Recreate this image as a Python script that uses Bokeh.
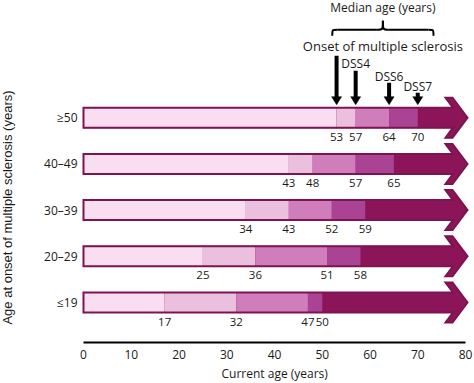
import math
from bokeh.plotting import figure
from bokeh.models import Range1d, FixedTicker, Title
from bokeh.embed import file_html
from bokeh.resources import INLINE
from bokeh.core.properties import value

# ---------------- data ----------------
groups = ["≥50", "40–49", "30–39", "20–29", "≤19"]
onset = [53, 43, 34, 25, 17]
dss4 = [57, 48, 43, 36, 32]
dss6 = [64, 57, 52, 51, 47]
dss7 = [70, 65, 59, 58, 50]
x_ticks = [0, 10, 20, 30, 40, 50, 60, 70, 80]
marker_labels = ["Onset of multiple sclerosis", "DSS4", "DSS6", "DSS7"]
header = "Median age (years)"
x_title = "Current age (years)"
y_title = "Age at onset of multiple sclerosis (years)"

# ---------------- styles ----------------
FONT = "Open Sans"
TXT = "#1a1a1a"
seg_colors = ["#f9ddf0", "#ebc0df", "#cf7ebb", "#ab4394"]
DARK = "#8c1458"
OUTLINE = "#7d1450"

W, H = 474, 383
ORIGIN, RIGHT, BOTTOM = 83, 2, 41
PX_X = 4.775    # pixels per year
PX_Y = 46.2     # pixels per row
x_start = -ORIGIN / PX_X
x_end = x_start + (W - RIGHT) / PX_X
y_start = -40 / PX_Y
y_end = y_start + (H - BOTTOM) / PX_Y

p = figure(width=W, height=H, output_backend="svg", toolbar_location=None,
           x_range=Range1d(x_start, x_end), y_range=Range1d(y_start, y_end),
           y_axis_location=None,
           min_border_left=0, min_border_right=RIGHT,
           min_border_top=0, min_border_bottom=BOTTOM)
p.outline_line_color = None
p.grid.visible = False
p.background_fill_color = "white"

n = len(groups)
rows = list(range(n))[::-1]
hh = 10 / PX_Y      # bar half height
HH = 20 / PX_Y      # arrow head half height
tip = x_ticks[-1] + 2 / PX_X
xa = tip - 22 / PX_X
xf = tip - 15 / PX_X
xb = tip - 14.5 / PX_X

# arrow shapes
axs, ays = [], []
for y in rows:
    axs.append([0, xb, xa, xf, tip, xf, xa, xb, 0])
    ays.append([y + hh, y + hh, y + HH, y + HH, y, y - HH, y - HH, y - hh, y - hh])
p.patches(axs, ays, fill_color=DARK, line_color=DARK, line_width=1)

# segments
L, R, B, T, C = [], [], [], [], []
for i, y in enumerate(rows):
    bounds = [0, onset[i], dss4[i], dss6[i], dss7[i]]
    for k in range(4):
        L.append(bounds[k]); R.append(bounds[k + 1])
        B.append(y - hh); T.append(y + hh); C.append(seg_colors[k])
p.quad(left=L, right=R, bottom=B, top=T, fill_color=C, line_color=None)
p.patches(axs, ays, fill_color=None, line_color=OUTLINE, line_width=2, line_join="miter")

# value labels under bars
lx, ly, lt = [], [], []
for i, y in enumerate(rows):
    for v in (onset[i], dss4[i], dss6[i], dss7[i]):
        lx.append(v); ly.append(y - hh - 9 / PX_Y); lt.append(str(v))
p.text(lx, ly, text=lt, text_align="center", text_baseline="middle",
       text_font=value(FONT), text_font_size="11.5px", text_color=TXT)

# category labels (left)
p.text([-6 / PX_X] * n, rows, text=groups, text_align="right", text_baseline="middle",
       text_font=value(FONT), text_font_size="12px", text_color=TXT)

# y title
p.text([-76.5 / PX_X], [y_end - 207 / PX_Y], text=[y_title], angle=math.pi / 2,
       text_align="center", text_baseline="middle",
       text_font=value("Liberation Sans"), text_font_size="13px", text_color=TXT)

# top markers (first row)
top_vals = [onset[0], dss4[0], dss6[0], dss7[0]]
shaft_px = [49, 34, 22, 12]
label_px = [59, 41, 28, 18]
tip_y = rows[0] + hh + 3 / PX_Y
head_len = 8 / PX_Y
head_hw = 5 / PX_X
p.segment(x0=top_vals, y0=[tip_y + s / PX_Y for s in shaft_px],
          x1=top_vals, y1=[tip_y + head_len * 0.9] * 4,
          line_color="black", line_width=4, line_cap="butt")
p.patches([[v - head_hw, v + head_hw, v] for v in top_vals],
          [[tip_y + head_len, tip_y + head_len, tip_y]] * 4,
          fill_color="black", line_color="black", line_width=0.5)

# brace
bl = onset[0] - 0.9
br = dss7[0] + 3.3
bm = (bl + br) / 2
ye = tip_y + 69 / PX_Y
yf = tip_y + 75 / PX_Y
yp = tip_y + 84 / PX_Y
r1 = 5 / PX_X
r2 = 6 / PX_X
p.bezier(x0=[bl, bm - r2, br, bm + r2], y0=[ye, yf, ye, yf],
         x1=[bl + r1, bm, br - r1, bm], y1=[yf, yp, yf, yp],
         cx0=[bl, bm, br, bm], cy0=[yf, yf, yf, yf],
         cx1=[bl, bm, br, bm], cy1=[yf, yf, yf, yf],
         line_color="black", line_width=2)
p.segment(x0=[bl + r1, bm + r2], y0=[yf, yf], x1=[bm - r2, br - r1], y1=[yf, yf],
          line_color="black", line_width=2)

# marker texts
p.text([bm], [tip_y + 97 / PX_Y], text=[header], text_align="center", text_baseline="middle",
       text_font=value(FONT), text_font_size="12px", text_color=TXT)
p.text([bm], [tip_y + label_px[0] / PX_Y], text=[marker_labels[0]], text_align="center",
       text_baseline="middle", text_font=value(FONT), text_font_size="13px", text_color=TXT)
p.text(top_vals[1:], [tip_y + s / PX_Y for s in label_px[1:]], text=marker_labels[1:],
       text_align="center", text_baseline="middle",
       text_font=value(FONT), text_font_size="12px", text_color=TXT)

# x axis
xa_ = p.xaxis[0]
xa_.ticker = FixedTicker(ticks=x_ticks)
xa_.bounds = (x_ticks[0], x_ticks[-1])
xa_.axis_line_color = "black"
xa_.axis_line_width = 2
xa_.major_tick_out = 0
xa_.major_tick_in = 0
xa_.major_tick_line_color = None
xa_.minor_tick_line_color = None
xa_.major_label_standoff = 7
xa_.major_label_text_font = FONT
xa_.major_label_text_font_size = "12px"
xa_.major_label_text_color = TXT

# x title, placed under the middle of the axis span (text ~107px wide)
axis_center_px = ORIGIN + (x_ticks[0] + x_ticks[-1]) / 2 * PX_X
p.add_layout(Title(text=x_title, align="left", offset=axis_center_px - 53,
                   standoff=2, text_font=FONT, text_font_size="12px",
                   text_font_style="normal", text_color=TXT), "below")

open("out.html", "w").write(file_html(p, INLINE))
